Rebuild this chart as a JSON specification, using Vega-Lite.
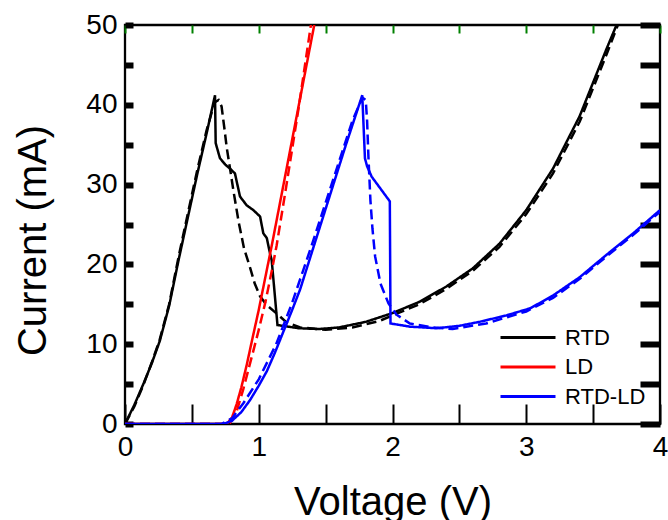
{
"$schema": "https://vega.github.io/schema/vega-lite/v6.json",
"width": 535, "height": 399,
"autosize": {"type": "none"},
"padding": {"left": 125, "top": 25, "right": 8, "bottom": 96},
"config": {"font": "Liberation Sans", "view": {"stroke": "black", "strokeWidth": 2.3},
  "axis": {"grid": false, "domain": false, "labelFlush": false, "labelOverlap": false, "labelBound": false, "labelColor": "black", "titleColor": "black"}},
"data": {"values": [
{"s":"RTD","t":"exp","k":0,"v":0,"i":0},{"s":"RTD","t":"exp","k":1,"v":0.07,"i":2.4},{"s":"RTD","t":"exp","k":2,"v":0.137,"i":5.0},{"s":"RTD","t":"exp","k":3,"v":0.2,"i":7.6},{"s":"RTD","t":"exp","k":4,"v":0.26,"i":10.4},{"s":"RTD","t":"exp","k":5,"v":0.33,"i":14.8},{"s":"RTD","t":"exp","k":6,"v":0.4,"i":20.5},{"s":"RTD","t":"exp","k":7,"v":0.47,"i":25.9},{"s":"RTD","t":"exp","k":8,"v":0.54,"i":31.3},{"s":"RTD","t":"exp","k":9,"v":0.61,"i":36.4},{"s":"RTD","t":"exp","k":10,"v":0.673,"i":41.2},{"s":"RTD","t":"exp","k":11,"v":0.678,"i":35.2},{"s":"RTD","t":"exp","k":12,"v":0.71,"i":33.3},{"s":"RTD","t":"exp","k":13,"v":0.75,"i":32.5},{"s":"RTD","t":"exp","k":14,"v":0.785,"i":32.0},{"s":"RTD","t":"exp","k":15,"v":0.822,"i":31.4},{"s":"RTD","t":"exp","k":16,"v":0.86,"i":28.5},{"s":"RTD","t":"exp","k":17,"v":0.91,"i":27.4},{"s":"RTD","t":"exp","k":18,"v":0.96,"i":26.8},{"s":"RTD","t":"exp","k":19,"v":1.01,"i":26.0},{"s":"RTD","t":"exp","k":20,"v":1.034,"i":23.9},{"s":"RTD","t":"exp","k":21,"v":1.06,"i":23.3},{"s":"RTD","t":"exp","k":22,"v":1.084,"i":21.4},{"s":"RTD","t":"exp","k":23,"v":1.097,"i":20.5},{"s":"RTD","t":"exp","k":24,"v":1.14,"i":12.4},{"s":"RTD","t":"exp","k":25,"v":1.3,"i":12.0},{"s":"RTD","t":"exp","k":26,"v":1.45,"i":11.9},{"s":"RTD","t":"exp","k":27,"v":1.6,"i":12.1},{"s":"RTD","t":"exp","k":28,"v":1.8,"i":12.8},{"s":"RTD","t":"exp","k":29,"v":2.0,"i":13.9},{"s":"RTD","t":"exp","k":30,"v":2.2,"i":15.3},{"s":"RTD","t":"exp","k":31,"v":2.4,"i":17.2},{"s":"RTD","t":"exp","k":32,"v":2.6,"i":19.5},{"s":"RTD","t":"exp","k":33,"v":2.8,"i":22.6},{"s":"RTD","t":"exp","k":34,"v":3.0,"i":26.8},{"s":"RTD","t":"exp","k":35,"v":3.2,"i":32.0},{"s":"RTD","t":"exp","k":36,"v":3.4,"i":38.6},{"s":"RTD","t":"exp","k":37,"v":3.6,"i":47.0},{"s":"RTD","t":"exp","k":38,"v":3.675,"i":50},
{"s":"RTD","t":"sim","k":0,"v":0,"i":0},{"s":"RTD","t":"sim","k":1,"v":0.07,"i":2.2},{"s":"RTD","t":"sim","k":2,"v":0.14,"i":5.0},{"s":"RTD","t":"sim","k":3,"v":0.2,"i":7.7},{"s":"RTD","t":"sim","k":4,"v":0.26,"i":10.6},{"s":"RTD","t":"sim","k":5,"v":0.33,"i":15.0},{"s":"RTD","t":"sim","k":6,"v":0.4,"i":20.9},{"s":"RTD","t":"sim","k":7,"v":0.47,"i":26.4},{"s":"RTD","t":"sim","k":8,"v":0.54,"i":31.8},{"s":"RTD","t":"sim","k":9,"v":0.61,"i":36.8},{"s":"RTD","t":"sim","k":10,"v":0.67,"i":40.3},{"s":"RTD","t":"sim","k":11,"v":0.7,"i":40.6},{"s":"RTD","t":"sim","k":12,"v":0.722,"i":39.8},{"s":"RTD","t":"sim","k":13,"v":0.745,"i":36.8},{"s":"RTD","t":"sim","k":14,"v":0.76,"i":34.7},{"s":"RTD","t":"sim","k":15,"v":0.79,"i":31.5},{"s":"RTD","t":"sim","k":16,"v":0.81,"i":29.3},{"s":"RTD","t":"sim","k":17,"v":0.85,"i":25.3},{"s":"RTD","t":"sim","k":18,"v":0.89,"i":22.0},{"s":"RTD","t":"sim","k":19,"v":0.935,"i":19.6},{"s":"RTD","t":"sim","k":20,"v":0.97,"i":17.6},{"s":"RTD","t":"sim","k":21,"v":1.01,"i":16.0},{"s":"RTD","t":"sim","k":22,"v":1.06,"i":14.9},{"s":"RTD","t":"sim","k":23,"v":1.13,"i":13.9},{"s":"RTD","t":"sim","k":24,"v":1.21,"i":12.7},{"s":"RTD","t":"sim","k":25,"v":1.31,"i":12.1},{"s":"RTD","t":"sim","k":26,"v":1.5,"i":11.8},{"s":"RTD","t":"sim","k":27,"v":1.7,"i":12.1},{"s":"RTD","t":"sim","k":28,"v":1.9,"i":12.9},{"s":"RTD","t":"sim","k":29,"v":2.2,"i":15.0},{"s":"RTD","t":"sim","k":30,"v":2.4,"i":16.9},{"s":"RTD","t":"sim","k":31,"v":2.6,"i":19.2},{"s":"RTD","t":"sim","k":32,"v":2.8,"i":22.2},{"s":"RTD","t":"sim","k":33,"v":3.0,"i":26.3},{"s":"RTD","t":"sim","k":34,"v":3.2,"i":31.4},{"s":"RTD","t":"sim","k":35,"v":3.4,"i":37.9},{"s":"RTD","t":"sim","k":36,"v":3.6,"i":46.3},{"s":"RTD","t":"sim","k":37,"v":3.685,"i":50},
{"s":"LD","t":"exp","k":0,"v":0,"i":0},{"s":"LD","t":"exp","k":1,"v":0.76,"i":0},{"s":"LD","t":"exp","k":2,"v":0.8,"i":0.8},{"s":"LD","t":"exp","k":3,"v":0.835,"i":2.5},{"s":"LD","t":"exp","k":4,"v":0.87,"i":4.6},{"s":"LD","t":"exp","k":5,"v":0.91,"i":7.4},{"s":"LD","t":"exp","k":6,"v":0.95,"i":10.5},{"s":"LD","t":"exp","k":7,"v":1.0,"i":14.3},{"s":"LD","t":"exp","k":8,"v":1.1,"i":22.6},{"s":"LD","t":"exp","k":9,"v":1.2,"i":31.3},{"s":"LD","t":"exp","k":10,"v":1.3,"i":40.0},{"s":"LD","t":"exp","k":11,"v":1.415,"i":50},
{"s":"LD","t":"sim","k":0,"v":0,"i":0},{"s":"LD","t":"sim","k":1,"v":0.78,"i":0},{"s":"LD","t":"sim","k":2,"v":0.83,"i":1.3},{"s":"LD","t":"sim","k":3,"v":0.885,"i":4.4},{"s":"LD","t":"sim","k":4,"v":0.96,"i":9.2},{"s":"LD","t":"sim","k":5,"v":1.0,"i":11.8},{"s":"LD","t":"sim","k":6,"v":1.05,"i":15.3},{"s":"LD","t":"sim","k":7,"v":1.1,"i":19.4},{"s":"LD","t":"sim","k":8,"v":1.134,"i":22.4},{"s":"LD","t":"sim","k":9,"v":1.2,"i":29.2},{"s":"LD","t":"sim","k":10,"v":1.3,"i":39.8},{"s":"LD","t":"sim","k":11,"v":1.39,"i":50},
{"s":"RTD-LD","t":"exp","k":0,"v":0,"i":0},{"s":"RTD-LD","t":"exp","k":1,"v":0.735,"i":0},{"s":"RTD-LD","t":"exp","k":2,"v":0.8,"i":0.4},{"s":"RTD-LD","t":"exp","k":3,"v":0.87,"i":1.5},{"s":"RTD-LD","t":"exp","k":4,"v":0.935,"i":3.0},{"s":"RTD-LD","t":"exp","k":5,"v":1.0,"i":4.8},{"s":"RTD-LD","t":"exp","k":6,"v":1.06,"i":6.6},{"s":"RTD-LD","t":"exp","k":7,"v":1.12,"i":8.9},{"s":"RTD-LD","t":"exp","k":8,"v":1.18,"i":11.4},{"s":"RTD-LD","t":"exp","k":9,"v":1.25,"i":14.3},{"s":"RTD-LD","t":"exp","k":10,"v":1.31,"i":16.9},{"s":"RTD-LD","t":"exp","k":11,"v":1.41,"i":22.2},{"s":"RTD-LD","t":"exp","k":12,"v":1.533,"i":28.7},{"s":"RTD-LD","t":"exp","k":13,"v":1.65,"i":34.9},{"s":"RTD-LD","t":"exp","k":14,"v":1.774,"i":41.2},{"s":"RTD-LD","t":"exp","k":15,"v":1.794,"i":33.3},{"s":"RTD-LD","t":"exp","k":16,"v":1.81,"i":32.3},{"s":"RTD-LD","t":"exp","k":17,"v":1.844,"i":31.0},{"s":"RTD-LD","t":"exp","k":18,"v":1.98,"i":27.9},{"s":"RTD-LD","t":"exp","k":19,"v":1.985,"i":12.6},{"s":"RTD-LD","t":"exp","k":20,"v":2.13,"i":12.2},{"s":"RTD-LD","t":"exp","k":21,"v":2.33,"i":12.0},{"s":"RTD-LD","t":"exp","k":22,"v":2.5,"i":12.3},{"s":"RTD-LD","t":"exp","k":23,"v":2.65,"i":12.8},{"s":"RTD-LD","t":"exp","k":24,"v":2.85,"i":13.6},{"s":"RTD-LD","t":"exp","k":25,"v":3.03,"i":14.5},{"s":"RTD-LD","t":"exp","k":26,"v":3.2,"i":16.1},{"s":"RTD-LD","t":"exp","k":27,"v":3.4,"i":18.4},{"s":"RTD-LD","t":"exp","k":28,"v":3.6,"i":21.2},{"s":"RTD-LD","t":"exp","k":29,"v":3.8,"i":23.9},{"s":"RTD-LD","t":"exp","k":30,"v":4.0,"i":26.8},
{"s":"RTD-LD","t":"sim","k":0,"v":0,"i":0},{"s":"RTD-LD","t":"sim","k":1,"v":0.72,"i":0},{"s":"RTD-LD","t":"sim","k":2,"v":0.8,"i":0.7},{"s":"RTD-LD","t":"sim","k":3,"v":0.885,"i":2.6},{"s":"RTD-LD","t":"sim","k":4,"v":1.0,"i":5.6},{"s":"RTD-LD","t":"sim","k":5,"v":1.13,"i":10.0},{"s":"RTD-LD","t":"sim","k":6,"v":1.25,"i":15.2},{"s":"RTD-LD","t":"sim","k":7,"v":1.4,"i":22.6},{"s":"RTD-LD","t":"sim","k":8,"v":1.55,"i":30.3},{"s":"RTD-LD","t":"sim","k":9,"v":1.7,"i":38.0},{"s":"RTD-LD","t":"sim","k":10,"v":1.775,"i":40.9},{"s":"RTD-LD","t":"sim","k":11,"v":1.8,"i":40.6},{"s":"RTD-LD","t":"sim","k":12,"v":1.81,"i":38.0},{"s":"RTD-LD","t":"sim","k":13,"v":1.82,"i":33.5},{"s":"RTD-LD","t":"sim","k":14,"v":1.835,"i":28.0},{"s":"RTD-LD","t":"sim","k":15,"v":1.85,"i":24.5},{"s":"RTD-LD","t":"sim","k":16,"v":1.87,"i":21.0},{"s":"RTD-LD","t":"sim","k":17,"v":1.91,"i":17.6},{"s":"RTD-LD","t":"sim","k":18,"v":1.97,"i":15.1},{"s":"RTD-LD","t":"sim","k":19,"v":2.03,"i":13.7},{"s":"RTD-LD","t":"sim","k":20,"v":2.13,"i":12.6},{"s":"RTD-LD","t":"sim","k":21,"v":2.3,"i":12.1},{"s":"RTD-LD","t":"sim","k":22,"v":2.45,"i":11.9},{"s":"RTD-LD","t":"sim","k":23,"v":2.7,"i":12.6},{"s":"RTD-LD","t":"sim","k":24,"v":3.0,"i":14.1},{"s":"RTD-LD","t":"sim","k":25,"v":3.2,"i":15.8},{"s":"RTD-LD","t":"sim","k":26,"v":3.4,"i":18.2},{"s":"RTD-LD","t":"sim","k":27,"v":3.6,"i":21.0},{"s":"RTD-LD","t":"sim","k":28,"v":3.8,"i":23.7},{"s":"RTD-LD","t":"sim","k":29,"v":4.0,"i":26.6}
]},
"resolve": {"axis": {"x": "independent", "y": "independent"}},
"layer": [
{"mark": {"type": "line", "strokeWidth": 2.5, "clip": true},
 "encoding": {
  "x": {"field": "v", "type": "quantitative", "scale": {"domain": [0, 4], "nice": false, "zero": false},
        "axis": {"orient": "bottom", "values": [0, 1, 2, 3, 4], "format": "d", "ticks": false, "labelFontSize": 28, "labelPadding": 9, "title": "Voltage (V)", "titleFontSize": 40, "titleFontWeight": "normal", "titleX": 267.5, "titleY": 90, "titleBaseline": "alphabetic", "titleAlign": "center"}},
  "y": {"field": "i", "type": "quantitative", "scale": {"domain": [0, 50], "nice": false},
        "axis": {"orient": "left", "values": [0, 10, 20, 30, 40, 50], "format": "d", "ticks": false, "labelFontSize": 28, "labelPadding": 8, "title": "Current (mA)", "titleFontSize": 40, "titleFontWeight": "normal", "titleX": -80, "titleY": 215, "titleAngle": -90, "titleBaseline": "alphabetic", "titleAlign": "center"}},
  "color": {"field": "s", "type": "nominal", "scale": {"domain": ["RTD", "LD", "RTD-LD"], "range": ["#000000", "#ff0000", "#0000ff"]},
        "legend": {"orient": "none", "legendX": 374, "legendY": 298, "title": null, "padding": 0, "symbolType": "stroke", "symbolSize": 3025, "symbolStrokeWidth": 3, "labelFontSize": 22, "labelColor": "black", "labelOffset": 8, "clipHeight": 29, "rowPadding": 0.5}},
  "strokeDash": {"field": "t", "type": "nominal", "scale": {"domain": ["exp", "sim"], "range": [[1, 0], [10, 5]]}, "legend": null},
  "order": {"field": "k", "type": "quantitative"}
 }},
{"mark": {"type": "point", "opacity": 0, "size": 0},
 "encoding": {
  "x": {"field": "v", "type": "quantitative", "scale": {"domain": [0, 4], "nice": false, "zero": false}, "axis": {"orient": "bottom", "values": [0, 0.5, 1, 1.5, 2, 2.5, 3, 3.5, 4], "tickSize": -20, "tickWidth": 2, "tickColor": "black", "labels": true, "labelExpr": "''", "title": "", "titlePadding": 0}},
  "y": {"field": "i", "type": "quantitative", "scale": {"domain": [0, 50], "nice": false}, "axis": {"orient": "left", "values": [0, 5, 10, 15, 20, 25, 30, 35, 40, 45, 50], "tickSize": -8, "tickWidth": 6, "tickColor": "black", "labels": true, "labelExpr": "''", "title": "", "titlePadding": 0}}
 }},
{"mark": {"type": "point", "opacity": 0, "size": 0},
 "encoding": {
  "x": {"field": "v", "type": "quantitative", "scale": {"domain": [0, 4], "nice": false, "zero": false}, "axis": {"orient": "top", "values": [0, 0.5, 1, 1.5, 2, 2.5, 3, 3.5, 4], "tickSize": -8, "tickWidth": 2, "tickColor": "green", "labels": true, "labelExpr": "''", "title": "", "titlePadding": 0}},
  "y": {"field": "i", "type": "quantitative", "scale": {"domain": [0, 50], "nice": false}, "axis": {"orient": "right", "values": [0, 5, 10, 15, 20, 25, 30, 35, 40, 45, 50], "tickSize": -20, "tickWidth": 6, "tickColor": "black", "labels": true, "labelExpr": "''", "title": "", "titlePadding": 0}}
 }}
]
}
